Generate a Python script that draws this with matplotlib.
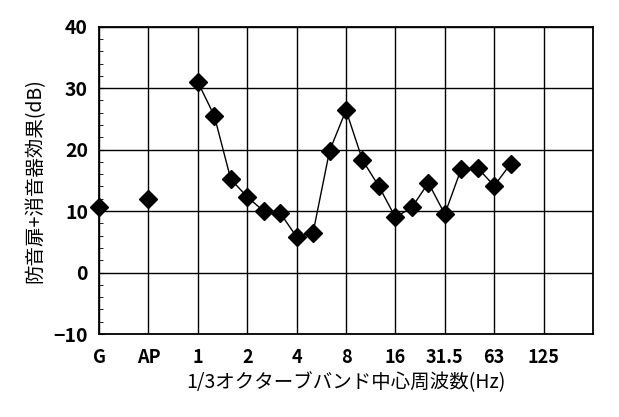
import matplotlib
matplotlib.use("Agg")
import matplotlib.pyplot as plt
import numpy as np

plt.rcParams['font.family'] = ['Noto Sans CJK JP', 'DejaVu Sans']

tick_labels = ["G", "AP", "1", "2", "4", "8", "16", "31.5", "63", "125"]
single_x = [0, 1]
single_y = [10.7, 11.9]
band_steps = list(range(20))  # third-octave steps from 1 Hz
band_y = [31.0, 25.5, 15.2, 12.3, 10.0, 9.7, 5.8, 6.5, 19.8, 26.4,
          18.3, 14.0, 9.0, 10.6, 14.6, 9.5, 16.9, 17.0, 14.1, 17.7]

fig = plt.figure(figsize=(6.19, 4.17), dpi=100)
ax = fig.add_axes([0.160, 0.199, 0.798, 0.737])
bx = [2 + s / 3 for s in band_steps]
ax.plot(single_x, single_y, linestyle='none', marker='D', color='black', markersize=9, clip_on=False, zorder=3)
ax.plot(bx, band_y, '-', marker='D', color='black', markersize=9, linewidth=1, zorder=3)
ax.set_xlim(0, 10)
ax.set_ylim(-10, 40)
ax.set_xticks(range(10))
ax.set_xticklabels(tick_labels, fontsize=13, fontweight='bold')
ax.set_yticks(range(-10, 41, 10))
ax.set_yticks(range(-10, 41, 2), minor=True)
ax.tick_params(axis='y', which='both', direction='in', labelsize=14, pad=8)
ax.tick_params(axis='y', which='minor', length=3)
ax.tick_params(axis='x', length=0, pad=10)
for lab in ax.get_yticklabels():
    lab.set_fontweight('bold')
ax.grid(True, color='black', linewidth=1)
for s in ax.spines.values():
    s.set_linewidth(1.3)
ax.set_xlabel("1/3オクターブバンド中心周波数(Hz)", fontsize=14, labelpad=4)
ax.set_ylabel("防音扉+消音器効果(dB)", fontsize=14, labelpad=6)
fig.savefig("out.png", dpi=100)
